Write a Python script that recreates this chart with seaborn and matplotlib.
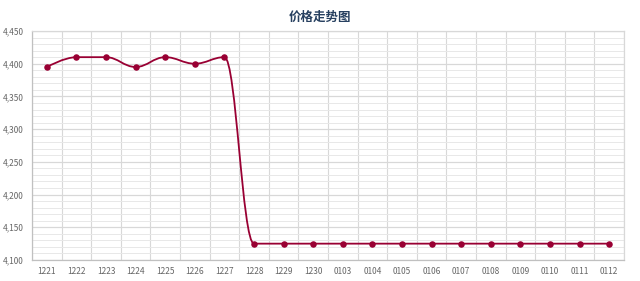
import matplotlib
matplotlib.use("Agg")
import matplotlib.pyplot as plt
import seaborn as sns
import numpy as np
import pandas as pd
from matplotlib.path import Path
from matplotlib.patches import PathPatch
from matplotlib.ticker import MultipleLocator, FuncFormatter, FixedLocator

dates = ["1221", "1222", "1223", "1224", "1225", "1226", "1227", "1228", "1229", "1230",
         "0103", "0104", "0105", "0106", "0107", "0108", "0109", "0110", "0111", "0112"]
prices = [4395, 4410, 4410, 4395, 4410, 4400, 4410, 4125, 4125, 4125,
          4125, 4125, 4125, 4125, 4125, 4125, 4125, 4125, 4125, 4125]

title = "价格走势图"
line_color = "#990033"

sns.set_theme(style="white")
plt.rcParams['font.family'] = ['Noto Sans CJK SC', 'DejaVu Sans']

df = pd.DataFrame({"date": dates, "price": prices})

fig = plt.figure(figsize=(6.4, 2.81), dpi=100)
ax = fig.add_axes([0.05, 0.0747, 0.925, 0.815])

# Highcharts-like spline path via bezier control points
xs = np.arange(len(prices), dtype=float)
ys = np.array(prices, dtype=float)
n = len(xs)
left_c = [(xs[i], ys[i]) for i in range(n)]
right_c = [(xs[i], ys[i]) for i in range(n)]
sm, den = 1.5, 2.5
for i in range(1, n - 1):
    px, py = xs[i], ys[i]
    lx, ly = xs[i - 1], ys[i - 1]
    nx, ny = xs[i + 1], ys[i + 1]
    lcx = (sm * px + lx) / den
    lcy = (sm * py + ly) / den
    rcx = (sm * px + nx) / den
    rcy = (sm * py + ny) / den
    if rcx != lcx:
        corr = ((rcy - lcy) * (rcx - px)) / (rcx - lcx) + py - rcy
        lcy += corr
        rcy += corr
    if lcy > ly and lcy > py:
        lcy = max(ly, py); rcy = 2 * py - lcy
    elif lcy < ly and lcy < py:
        lcy = min(ly, py); rcy = 2 * py - lcy
    if rcy > ny and rcy > py:
        rcy = max(ny, py); lcy = 2 * py - rcy
    elif rcy < ny and rcy < py:
        rcy = min(ny, py); lcy = 2 * py - rcy
    left_c[i] = (lcx, lcy)
    right_c[i] = (rcx, rcy)

verts = [(xs[0], ys[0])]
codes = [Path.MOVETO]
for i in range(1, n):
    verts += [right_c[i - 1], left_c[i], (xs[i], ys[i])]
    codes += [Path.CURVE4] * 3
ax.add_patch(PathPatch(Path(verts, codes), facecolor="none", edgecolor=line_color,
                       lw=1.3, zorder=3))

sns.scatterplot(data=df, x="date", y="price", ax=ax, color=line_color, s=22,
                edgecolor=line_color, linewidth=0, zorder=4, legend=False)

ax.set_xlim(-0.5, n - 0.5)
ax.set_ylim(4100, 4450)
ax.yaxis.set_major_locator(MultipleLocator(50))
ax.yaxis.set_minor_locator(MultipleLocator(10))
ax.yaxis.set_major_formatter(FuncFormatter(lambda v, p: f"{int(v):,}"))
ax.xaxis.set_major_locator(FixedLocator(xs))
ax.set_xticklabels(dates)
ax.xaxis.set_minor_locator(FixedLocator(np.arange(-0.5, n, 1.0)))

ax.grid(which="major", axis="y", color="#d8d8d8", lw=0.9)
ax.grid(which="minor", axis="y", color="#e8e8e8", lw=0.7)
ax.grid(which="minor", axis="x", color="#d8d8d8", lw=0.8)
ax.set_axisbelow(True)

ax.tick_params(axis="x", which="major", length=0, labelsize=6, colors="#666666", pad=5)
ax.tick_params(axis="x", which="minor", length=4, color="#cccccc", width=0.8, direction="out")
ax.tick_params(axis="y", which="both", length=0, labelsize=6, colors="#666666", pad=6)
ax.set_xlabel("")
ax.set_ylabel("")
for s in ax.spines.values():
    s.set_color("#d8d8d8")
    s.set_linewidth(0.9)
ax.spines["bottom"].set_color("#c0c0c0")
ax.spines["left"].set_color("#c0c0c0")

fig.text(0.5, 0.94, title, ha="center", va="center", fontsize=9, fontweight="bold",
         color="#274060")

fig.savefig("out.png", dpi=100)
